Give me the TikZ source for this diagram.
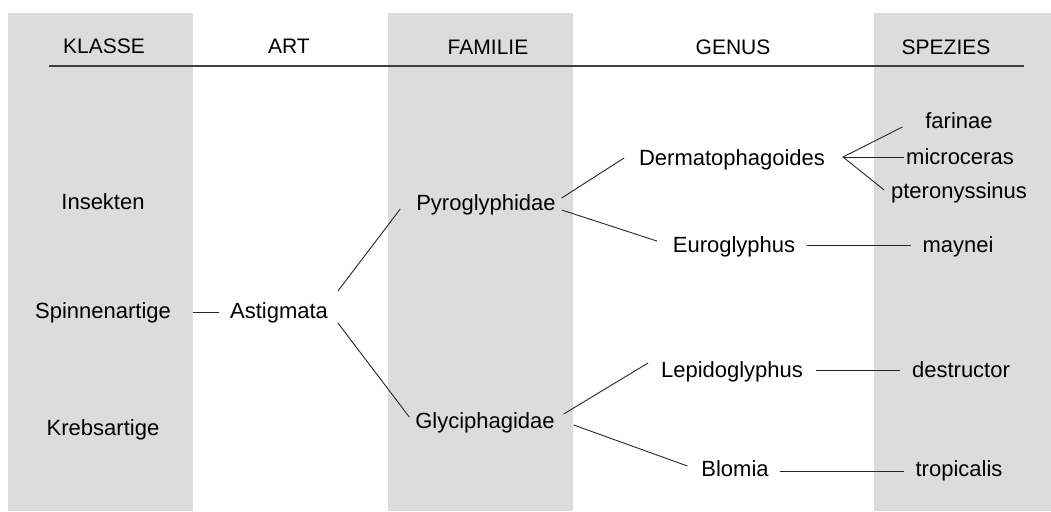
\documentclass[tikz,border=0pt]{standalone}
\usepackage{fontspec}
\setmainfont{Liberation Sans}
\definecolor{colgray}{RGB}{220,220,220}
\definecolor{rulegray}{RGB}{64,64,64}
\tikzset{
  hdr/.style={anchor=base, inner sep=0pt, outer sep=0pt, font=\fontsize{21}{25}\selectfont},
  lbl/.style={anchor=base, inner sep=0pt, outer sep=0pt, font=\fontsize{22}{26}\selectfont},
  conn/.style={line width=0.9pt, draw=black!85},
  colband/.style={fill=colgray, draw=none},
  headrule/.style={line width=1.8pt, draw=rulegray}
}
\begin{document}
\begin{tikzpicture}[x=1pt, y=-1pt]
\useasboundingbox (0,0) rectangle (1051,511);
\fill[white] (0,0) rectangle (1051,511);
% grey columns
\fill[colband] (8,13) rectangle (193,511);
\fill[colband] (388,13) rectangle (573,511);
\fill[colband] (874,13) rectangle (1051,511);
% headers
\node[hdr] (hK) at (104,53) {KLASSE};
\node[hdr] (hA) at (289,53) {ART};
\node[hdr] (hF) at (488,55) {FAMILIE};
\node[hdr] (hG) at (733,55) {GENUS};
\node[hdr] (hS) at (946,55) {SPEZIES};
\coordinate (ruleL) at (49,66);
\coordinate (ruleR) at (1024,66);
\draw[headrule] (ruleL) -- (ruleR);
% class column
\node[lbl] (ins) at (103,209) {Insekten};
\node[lbl] (spi) at (103,318) {Spinnenartige};
\node[lbl] (kre) at (103,435) {Krebsartige};
% order
\node[lbl] (ast) at (279,318) {Astigmata};
% families
\node[lbl] (pyr) at (486,210) {Pyroglyphidae};
\node[lbl] (gly) at (485,428) {Glyciphagidae};
% genera
\node[lbl] (der) at (732,165) {Dermatophagoides};
\node[lbl] (eur) at (734,252) {Euroglyphus};
\node[lbl] (lep) at (732,377) {Lepidoglyphus};
\node[lbl] (blo) at (735,476) {Blomia};
% species
\node[lbl] (far) at (959,128) {farinae};
\node[lbl] (mic) at (960,164) {microceras};
\node[lbl] (pte) at (959,198) {pteronyssinus};
\node[lbl] (may) at (958,252) {maynei};
\node[lbl] (des) at (961,377) {destructor};
\node[lbl] (tro) at (959,476) {tropicalis};
% connectors
\draw[conn] ([shift={(22,-6)}]spi.base east) -- ([shift={(-11,-6)}]ast.base west);
\draw[conn] ([shift={(10,-27)}]ast.base east) -- ([shift={(-16,-1)}]pyr.base west);
\draw[conn] ([shift={(10,5)}]ast.base east) -- ([shift={(-6,-11)}]gly.base west);
\draw[conn] ([shift={(6,-12)}]pyr.base east) -- ([shift={(-15,-7)}]der.base west);
\draw[conn] ([shift={(6,0)}]pyr.base east) -- ([shift={(-16,-11)}]eur.base west);
\draw[conn] ([shift={(18,-8)}]der.base east) -- ([shift={(-23,-1)}]far.base west);
\draw[conn] ([shift={(18,-8)}]der.base east) -- ([shift={(-2,-7)}]mic.base west);
\draw[conn] ([shift={(18,-8)}]der.base east) -- ([shift={(-7,-8)}]pte.base west);
\draw[conn] ([shift={(12,-7)}]eur.base east) -- ([shift={(-12,-7)}]may.base west);
\draw[conn] ([shift={(9,-14)}]gly.base east) -- ([shift={(-13,-14)}]lep.base west);
\draw[conn] ([shift={(19,-3)}]gly.base east) -- ([shift={(-14,-10)}]blo.base west);
\draw[conn] ([shift={(13,-7)}]lep.base east) -- ([shift={(-12,-7)}]des.base west);
\draw[conn] ([shift={(11,-5)}]blo.base east) -- ([shift={(-12,-5)}]tro.base west);
\end{tikzpicture}
\end{document}
